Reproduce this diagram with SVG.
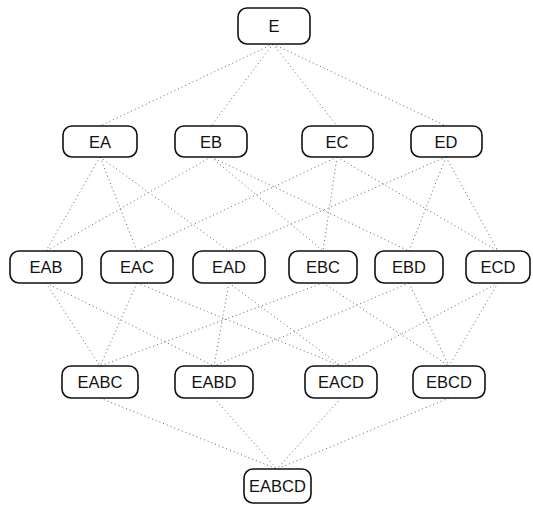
<svg xmlns="http://www.w3.org/2000/svg" width="533" height="505" viewBox="0 0 533 505">
<style>
.n rect{fill:#fff;stroke:#111;stroke-width:1.6}
.n text{font-family:"Liberation Sans",Arial,sans-serif;font-size:16.5px;fill:#111;text-anchor:middle;dominant-baseline:central}
#edges line{stroke:#666;stroke-width:1;stroke-dasharray:1 3}
</style>
<rect width="533" height="505" fill="#fff"/>
<g id="edges">
<line x1="273" y1="44" x2="100" y2="126"/>
<line x1="273" y1="44" x2="211" y2="126"/>
<line x1="273" y1="44" x2="337" y2="126"/>
<line x1="273" y1="44" x2="446" y2="126"/>
<line x1="100" y1="157" x2="46" y2="251"/>
<line x1="100" y1="157" x2="137" y2="251"/>
<line x1="100" y1="157" x2="229" y2="251"/>
<line x1="211" y1="157" x2="46" y2="251"/>
<line x1="211" y1="157" x2="323" y2="251"/>
<line x1="211" y1="157" x2="409" y2="251"/>
<line x1="337" y1="157" x2="137" y2="251"/>
<line x1="337" y1="157" x2="323" y2="251"/>
<line x1="337" y1="157" x2="498" y2="251"/>
<line x1="446" y1="157" x2="229" y2="251"/>
<line x1="446" y1="157" x2="409" y2="251"/>
<line x1="446" y1="157" x2="498" y2="251"/>
<line x1="46" y1="283" x2="100" y2="366"/>
<line x1="46" y1="283" x2="214" y2="366"/>
<line x1="137" y1="283" x2="100" y2="366"/>
<line x1="137" y1="283" x2="341" y2="366"/>
<line x1="229" y1="283" x2="214" y2="366"/>
<line x1="229" y1="283" x2="341" y2="366"/>
<line x1="323" y1="283" x2="100" y2="366"/>
<line x1="323" y1="283" x2="449" y2="366"/>
<line x1="409" y1="283" x2="214" y2="366"/>
<line x1="409" y1="283" x2="449" y2="366"/>
<line x1="498" y1="283" x2="341" y2="366"/>
<line x1="498" y1="283" x2="449" y2="366"/>
<line x1="100" y1="398" x2="277" y2="469"/>
<line x1="214" y1="398" x2="277" y2="469"/>
<line x1="341" y1="398" x2="277" y2="469"/>
<line x1="449" y1="398" x2="277" y2="469"/>
</g>
<g id="E" class="n"><rect x="238" y="8" width="72" height="36" rx="9"/><text x="274" y="26">E</text></g>
<g id="EA" class="n"><rect x="63" y="126" width="74" height="31" rx="9"/><text x="100" y="141.5">EA</text></g>
<g id="EB" class="n"><rect x="175" y="126" width="72" height="31" rx="9"/><text x="211" y="141.5">EB</text></g>
<g id="EC" class="n"><rect x="302" y="126" width="71" height="31" rx="9"/><text x="337" y="141.5">EC</text></g>
<g id="ED" class="n"><rect x="411" y="126" width="71" height="31" rx="9"/><text x="446" y="141.5">ED</text></g>
<g id="EAB" class="n"><rect x="10" y="251" width="72" height="32" rx="9"/><text x="46" y="267">EAB</text></g>
<g id="EAC" class="n"><rect x="101" y="251" width="72" height="32" rx="9"/><text x="137" y="267">EAC</text></g>
<g id="EAD" class="n"><rect x="193" y="251" width="72" height="32" rx="9"/><text x="229" y="267">EAD</text></g>
<g id="EBC" class="n"><rect x="289" y="251" width="68" height="32" rx="9"/><text x="323" y="267">EBC</text></g>
<g id="EBD" class="n"><rect x="375" y="251" width="68" height="32" rx="9"/><text x="409" y="267">EBD</text></g>
<g id="ECD" class="n"><rect x="466" y="251" width="64" height="32" rx="9"/><text x="498" y="267">ECD</text></g>
<g id="EABC" class="n"><rect x="62" y="366" width="76" height="32" rx="9"/><text x="100" y="382">EABC</text></g>
<g id="EABD" class="n"><rect x="175" y="366" width="78" height="32" rx="9"/><text x="214" y="382">EABD</text></g>
<g id="EACD" class="n"><rect x="305" y="366" width="72" height="32" rx="9"/><text x="341" y="382">EACD</text></g>
<g id="EBCD" class="n"><rect x="413" y="366" width="72" height="32" rx="9"/><text x="449" y="382">EBCD</text></g>
<g id="EABCD" class="n"><rect x="244" y="469" width="67" height="34" rx="9"/><text x="277.5" y="486">EABCD</text></g>
</svg>
